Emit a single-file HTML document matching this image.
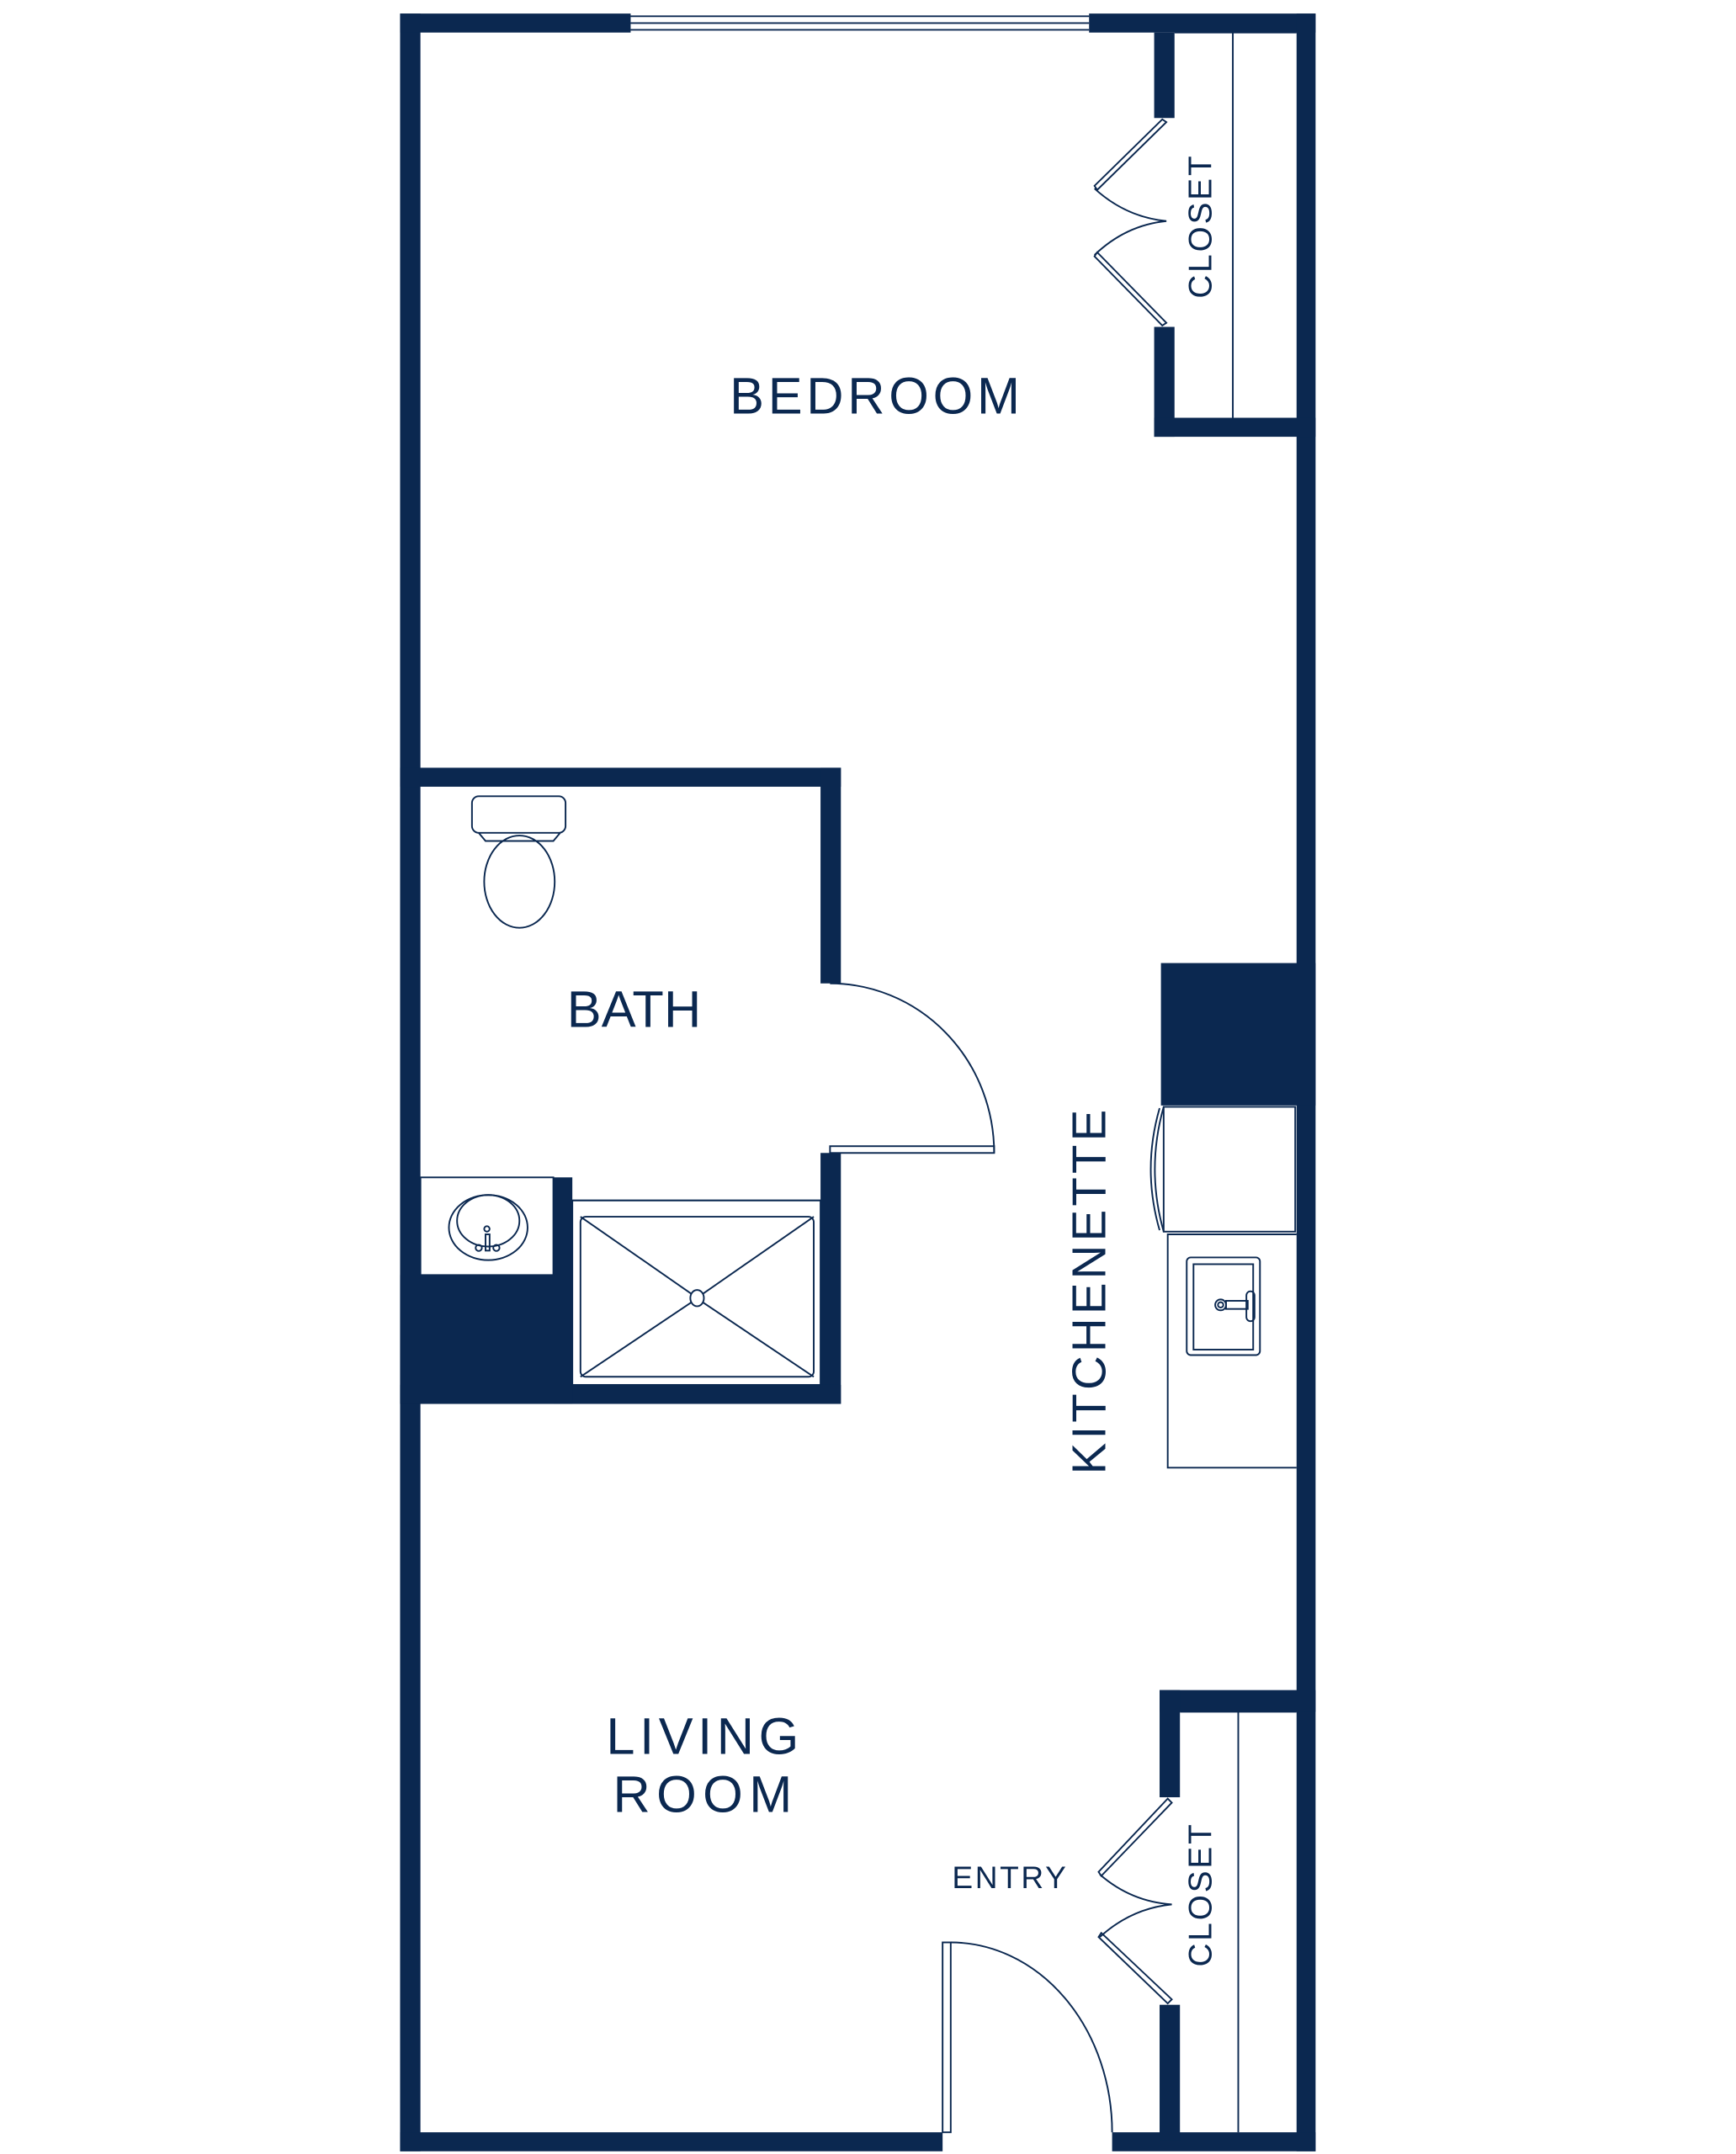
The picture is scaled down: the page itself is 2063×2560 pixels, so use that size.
<!DOCTYPE html>
<html><head><meta charset="utf-8"><style>
html,body{margin:0;padding:0;background:#fff;}
svg{display:block;}
text{font-family:"Liberation Sans",sans-serif;fill:#0b2850;}
</style></head><body>
<svg width="2063" height="2560" viewBox="0 0 1280 1588" preserveAspectRatio="none" xmlns="http://www.w3.org/2000/svg">
<g fill="#0b2850">
<rect x="295" y="10" width="15" height="1576"/>
<rect x="295" y="10" width="170" height="14"/>
<rect x="803" y="10" width="167" height="14"/>
<rect x="956" y="10" width="14" height="1576"/>
<rect x="295" y="1572" width="400" height="14"/>
<rect x="820" y="1572" width="150" height="14"/>
<rect x="851" y="24" width="15" height="63"/>
<rect x="851" y="241" width="15" height="81"/>
<rect x="851" y="308" width="119" height="14"/>
<rect x="295" y="566" width="325" height="14"/>
<rect x="605" y="566" width="15" height="159"/>
<rect x="605" y="850" width="15" height="185"/>
<rect x="295" y="1021" width="325" height="14"/>
<rect x="408" y="868" width="14" height="167"/>
<rect x="295" y="940" width="127" height="95"/>
<rect x="856" y="710" width="114" height="105"/>
<rect x="855" y="1246" width="115" height="16"/>
<rect x="855" y="1246" width="15" height="79"/>
<rect x="855" y="1478" width="15" height="100"/>
</g>
<g fill="none" stroke="#0b2850" stroke-width="1.2">
<line x1="465" y1="12" x2="803" y2="12"/>
<line x1="465" y1="17" x2="803" y2="17"/>
<line x1="465" y1="22" x2="803" y2="22"/>
<line x1="909" y1="24" x2="909" y2="308"/>
<line x1="866" y1="24" x2="956" y2="24"/>
<line x1="913" y1="1262" x2="913" y2="1572"/>
<line x1="870" y1="1262" x2="956" y2="1262"/>
<path d="M857 88 L807 137 L809 140 L860 90 Z"/>
<path d="M807 139 Q830 160 860 163 Q830 166 807 188"/>
<path d="M857 240 L807 189 L809 186 L860 238 Z"/>
<path d="M861 1326 L810 1380 L812 1383 L864 1329 Z"/>
<path d="M811 1382 Q834 1402 864 1404 Q834 1407 811 1428"/>
<path d="M861 1477 L810 1428 L812 1425 L864 1474 Z"/>
<path d="M612 725 A121 125 0 0 1 733 850"/>
<rect x="612" y="845" width="121" height="5"/>
<rect x="695" y="1432" width="6" height="140"/>
<path d="M701 1432 A119 140 0 0 1 820 1572"/>
<rect x="348" y="587" width="69" height="27" rx="5"/>
<path d="M353 614 L358 620 L408 620 L413 614"/>
<ellipse cx="383" cy="650" rx="26" ry="34"/>
<rect x="310" y="868" width="98" height="72"/>
<ellipse cx="360" cy="905" rx="29" ry="24"/>
<ellipse cx="360" cy="900" rx="23" ry="19"/>
<circle cx="359" cy="906" r="2"/>
<rect x="358" y="910" width="3" height="12"/>
<circle cx="353" cy="920" r="2.3"/>
<circle cx="366" cy="920" r="2.3"/>
<line x1="422" y1="885" x2="605" y2="885"/>
<rect x="422" y="885" width="183" height="136"/>
<rect x="428" y="897" width="172" height="118" rx="4"/>
<ellipse cx="514" cy="957" rx="5" ry="6"/>
<line x1="428" y1="897" x2="510" y2="954"/>
<line x1="600" y1="897" x2="518" y2="954"/>
<line x1="428" y1="1015" x2="510" y2="960"/>
<line x1="600" y1="1015" x2="518" y2="960"/>
<rect x="858" y="816" width="97" height="92"/>
<path d="M858 816 Q845 862 858 908"/>
<path d="M855 817 Q842 862 855 907"/>
<path d="M956 910 L861 910 L861 1082 L956 1082"/>
<rect x="875" y="927" width="54" height="72" rx="3"/>
<rect x="880" y="932" width="44" height="63"/>
<circle cx="900" cy="962" r="4"/>
<circle cx="900" cy="962" r="2"/>
<rect x="904" y="959" width="16" height="6"/>
<rect x="919" y="952" width="6" height="22" rx="3"/>
</g>
<text x="538" y="305" font-size="38" textLength="214" lengthAdjust="spacing">BEDROOM</text>
<text x="418" y="757" font-size="38" textLength="99" lengthAdjust="spacing">BATH</text>
<text x="447" y="1293" font-size="38" textLength="142" lengthAdjust="spacing">LIVING</text>
<text x="452" y="1336" font-size="38" textLength="132" lengthAdjust="spacing">ROOM</text>
<text x="702" y="1392" font-size="23" textLength="84" lengthAdjust="spacing">ENTRY</text>
<text transform="translate(815,1087) rotate(-90)" font-size="35" textLength="269" lengthAdjust="spacing">KITCHENETTE</text>
<text transform="translate(893,220) rotate(-90)" font-size="24" textLength="105" lengthAdjust="spacing">CLOSET</text>
<text transform="translate(893,1450) rotate(-90)" font-size="24" textLength="105" lengthAdjust="spacing">CLOSET</text>
</svg>
</body></html>
